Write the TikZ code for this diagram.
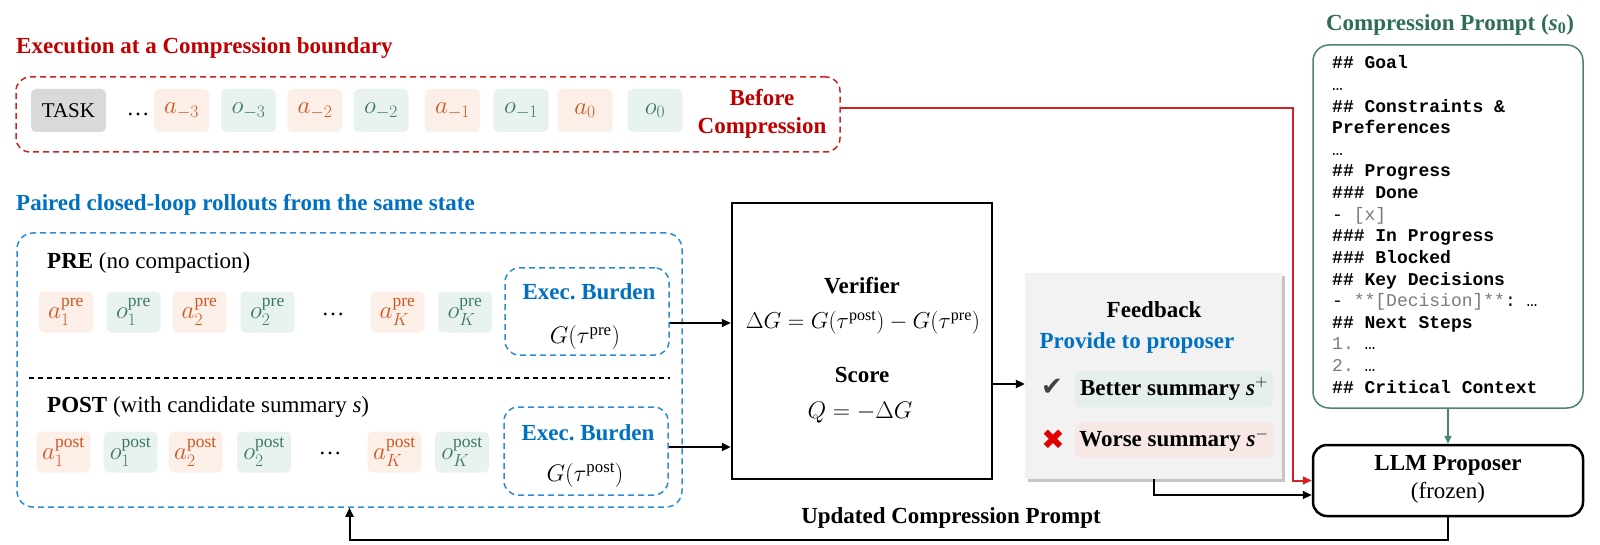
\RequirePackage{fix-cm}
\documentclass[tikz,border=0pt]{standalone}
\usepackage{amsmath}
\usepackage{fontspec}
\setmainfont{Liberation Serif}
\newfontfamily\codefont{Liberation Mono}
\newfontfamily\symfont{DejaVu Sans}
\usetikzlibrary{arrows.meta,shadows,calc}
\frenchspacing
\definecolor{redT}{HTML}{C00000}
\definecolor{redD}{HTML}{D42020}
\definecolor{blueT}{HTML}{0070C0}
\definecolor{blueD}{HTML}{2E8BD6}
\definecolor{greenT}{HTML}{2E6E55}
\definecolor{greenB}{HTML}{4A8570}
\definecolor{tokAf}{HTML}{FCEFE8}
\definecolor{tokAt}{HTML}{D2561E}
\definecolor{tokOf}{HTML}{E9F3EE}
\definecolor{tokOt}{HTML}{3C7862}
\definecolor{taskF}{HTML}{D9D9D9}
\definecolor{fbF}{HTML}{F2F2F2}
\definecolor{betterF}{HTML}{E3EFE8}
\definecolor{worseF}{HTML}{F7E8E6}
\definecolor{codegray}{HTML}{7A7A7A}
\definecolor{checkC}{HTML}{404040}
\definecolor{crossC}{HTML}{E00000}
\begin{document}
\begin{tikzpicture}[x=1pt,y=-1pt,
  every node/.style={font=\fontsize{23}{28}\selectfont, inner sep=0pt},
  tok/.style={rounded corners=5pt, minimum width=55pt, minimum height=43pt, font=\fontsize{25}{28}\selectfont},
  atok/.style={tok, fill=tokAf, text=tokAt},
  otok/.style={tok, fill=tokOf, text=tokOt},
  rtok/.style={tok, minimum height=41pt, minimum width=54pt},
  artok/.style={rtok, fill=tokAf, text=tokAt},
  ortok/.style={rtok, fill=tokOf, text=tokOt},
  bdash/.style={draw=blueD, line width=1.5pt, dash pattern=on 6pt off 4pt, rounded corners=14pt},
  code/.style={anchor=base west, font=\codefont\fontsize{18}{21}\selectfont},
  arr/.style={-{Triangle[length=9pt,width=8pt]}, line width=2pt},
  mathbig/.style={font=\fontsize{24}{28}\selectfont},
  titleB/.style={font=\fontsize{23}{28}\selectfont\bfseries}
]
\useasboundingbox (0,0) rectangle (1600,545);

% ---------- top: execution at compression boundary ----------
\node[titleB, text=redT, anchor=west] (t1) at (16,48) {Execution at a Compression boundary};
\node[draw=redD, line width=1.5pt, dash pattern=on 6pt off 4pt, rounded corners=14pt,
      minimum width=824pt, minimum height=75pt] (rb) at (428,114.5) {};
\node[tok, fill=taskF, font=\fontsize{21}{25}\selectfont, minimum width=75pt] (task) at (68.5,110.5) {TASK};
\node (tdots) at (138,114) {…};
\node[atok] (am3) at (181.5,110.5) {$a_{-3}$};
\node[otok] (om3) at (248.5,110.5) {$o_{-3}$};
\node[atok] (am2) at (315,110.5) {$a_{-2}$};
\node[otok] (om2) at (381,110.5) {$o_{-2}$};
\node[atok] (am1) at (452.5,110.5) {$a_{-1}$};
\node[otok] (om1) at (521,110.5) {$o_{-1}$};
\node[atok] (a0) at (585,110.5) {$a_{0}$};
\node[otok] (o0) at (655,110.5) {$o_{0}$};
\node[titleB, text=redT, align=center] (bc) at (762,114) {Before\\Compression};

% ---------- paired rollouts ----------
\node[titleB, text=blueT, anchor=west] (t2) at (16,205) {Paired closed-loop rollouts from the same state};
\node[bdash, rounded corners=16pt, minimum width=665pt, minimum height=274pt] (blue) at (349.5,370) {};

\node[anchor=west] (pre) at (47,263) {\textbf{PRE} (no compaction)};
\node[artok] (pa1) at (66,312) {$a_1^{\mathrm{pre}}$};
\node[ortok] (po1) at (133.5,312) {$o_1^{\mathrm{pre}}$};
\node[artok] (pa2) at (199.5,312) {$a_2^{\mathrm{pre}}$};
\node[ortok] (po2) at (267.5,312) {$o_2^{\mathrm{pre}}$};
\node (pdots) at (333,314) {…};
\node[artok] (paK) at (397.5,312) {$a_K^{\mathrm{pre}}$};
\node[ortok] (poK) at (465,312) {$o_K^{\mathrm{pre}}$};
\node[bdash, minimum width=164pt, minimum height=87pt] (ex1) at (587,311.5) {};
\node[titleB, text=blueT] (ex1t) at (589,292) {Exec.\ Burden};
\node[mathbig] (ex1g) at (585,338) {$G(\tau^{\mathrm{pre}})$};

\coordinate (sepL) at (29,378);
\coordinate (sepR) at (670,378);
\draw[line width=1.3pt, dash pattern=on 5pt off 4pt] (sepL) -- (sepR);

\node[anchor=west] (post) at (47,407) {\textbf{POST} (with candidate summary \textit{s})};
\node[artok] (qa1) at (63.5,452) {$a_1^{\mathrm{post}}$};
\node[ortok] (qo1) at (130.5,452) {$o_1^{\mathrm{post}}$};
\node[artok] (qa2) at (195.5,452) {$a_2^{\mathrm{post}}$};
\node[ortok] (qo2) at (264,452) {$o_2^{\mathrm{post}}$};
\node (qdots) at (330,453) {…};
\node[artok] (qaK) at (394.5,452) {$a_K^{\mathrm{post}}$};
\node[ortok] (qoK) at (462,452) {$o_K^{\mathrm{post}}$};
\node[bdash, minimum width=164pt, minimum height=88pt] (ex2) at (586,451) {};
\node[titleB, text=blueT] (ex2t) at (588,433) {Exec.\ Burden};
\node[mathbig] (ex2g) at (585,475) {$G(\tau^{\mathrm{post}})$};

% ---------- verifier ----------
\node[draw, line width=2.5pt, minimum width=260pt, minimum height=276pt] (ver) at (862,341) {};
\node[titleB] (vt) at (862,286) {Verifier};
\node[font=\fontsize{23}{26}\selectfont] (vf) at (863,323) {$\Delta G = G(\tau^{\mathrm{post}}) - G(\tau^{\mathrm{pre}})$};
\node[titleB] (st) at (862,375) {Score};
\node[mathbig] (sf) at (860,413) {$Q = -\Delta G$};

\draw[arr] ([yshift=-11.5pt]ex1.east) -- ([yshift=-11.5pt]ex1.east -| ver.west);
\draw[arr] ([yshift=4pt]ex2.east) -- ([yshift=4pt]ex2.east -| ver.west);

% ---------- feedback ----------
\node[fill=fbF, minimum width=257pt, minimum height=206pt,
      drop shadow={shadow xshift=3pt, shadow yshift=-3pt, fill=black!45, opacity=0.5}] (fb) at (1153.5,376) {};
\node[titleB] (fbt) at (1154,310) {Feedback};
\node[titleB, text=blueT] (fbp) at (1137,343) {Provide to proposer};
\node[fill=betterF, rounded corners=5pt, minimum width=198pt, minimum height=36pt, titleB] (better) at (1174,389) {Better summary \textit{s}$^{+}$};
\node[fill=worseF, rounded corners=5pt, minimum width=198pt, minimum height=36pt, titleB] (worse) at (1174,440) {Worse summary \textit{s}$^{-}$};
\node[text=checkC, font=\symfont\fontsize{26}{28}\selectfont] (chk) at (1052,387) {✔};
\node[text=crossC, font=\symfont\fontsize{28}{30}\selectfont] (crs) at (1053,440) {✖};

\draw[arr] ([yshift=-43pt]ver.east) -- ([yshift=-43pt]ver.east -| fb.west);

% ---------- compression prompt ----------
\node[titleB, text=greenT] (cpt) at (1450,25) {Compression Prompt (\textit{s}\textsubscript{0})};
\node[draw=greenB, line width=1.5pt, rounded corners=16pt, minimum width=270pt, minimum height=363pt] (cp) at (1448,226.5) {};
\node[code] (c0) at (1332,69) {\textbf{\#\# Goal}};
\node[code] (c1) at (1332,90.6) {…};
\node[code] (c2) at (1332,112.2) {\textbf{\#\# Constraints \&}};
\node[code] (c3) at (1332,133.8) {\textbf{Preferences}};
\node[code] (c4) at (1332,155.4) {…};
\node[code] (c5) at (1332,177) {\textbf{\#\# Progress}};
\node[code] (c6) at (1332,198.6) {\textbf{\#\#\# Done}};
\node[code] (c7) at (1332,220.2) {- {\color{codegray}[x]}};
\node[code] (c8) at (1332,241.8) {\textbf{\#\#\# In Progress}};
\node[code] (c9) at (1332,263.4) {\textbf{\#\#\# Blocked}};
\node[code] (c10) at (1332,285) {\textbf{\#\# Key Decisions}};
\node[code] (c11) at (1332,306.6) {- {\color{codegray}**[Decision]**}: …};
\node[code] (c12) at (1332,328.2) {\textbf{\#\# Next Steps}};
\node[code] (c13) at (1332,349.8) {{\color{codegray}1.} …};
\node[code] (c14) at (1332,371.4) {{\color{codegray}2.} …};
\node[code] (c15) at (1332,393) {\textbf{\#\# Critical Context}};

% ---------- LLM proposer ----------
\node[draw, line width=2.5pt, rounded corners=14pt, minimum width=270pt, minimum height=71pt] (llm) at (1448,480.5) {};
\node[titleB] (llmt) at (1448,465) {LLM Proposer};
\node (llmf) at (1448,493) {(frozen)};

\draw[-{Triangle[length=8pt,width=7pt]}, line width=1.5pt, draw=greenB] (cp.south) -- (cp.south |- llm.north);

% red connector
\coordinate (rc) at (1293,108);
\draw[-{Triangle[length=9pt,width=8pt]}, line width=2pt, draw=redD] ([yshift=6.5pt]rb.east) -- (rc) |- (llm.west);

% feedback to proposer
\draw[arr] (fb.south) |- ([yshift=-14.5pt]llm.west);

% return arrow
\coordinate (ret) at (0,540);
\draw[arr] (llm.south) |- (ret -| blue.south) -- (blue.south);
\node[titleB] (upd) at (951,518) {Updated Compression Prompt};

\end{tikzpicture}
\end{document}
